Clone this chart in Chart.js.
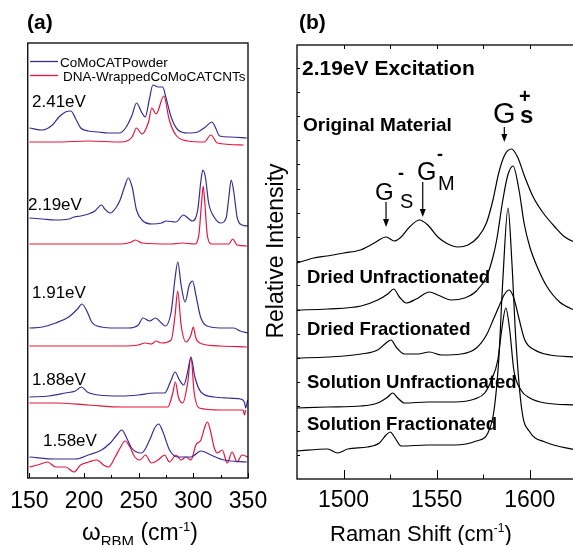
<!DOCTYPE html>
<html>
<head>
<meta charset="utf-8">
<script src="https://cdn.jsdelivr.net/npm/chart.js@4.4.1/dist/chart.umd.min.js"></script>
<style>
  html, body { margin: 0; padding: 0; background: #fff; overflow: hidden; }
  #wrap { position: relative; width: 573px; height: 545px; overflow: hidden; }
  #chartA { position: absolute; left: 0; top: 0; }
  #chartB { position: absolute; left: 255px; top: 0; }
</style>
</head>
<body>
<div id="wrap">
  <canvas id="chartA" width="290" height="545"></canvas>
  <canvas id="chartB" width="330" height="545"></canvas>
</div>
<script>
// ---- panel (a): RBM spectra, x = wavenumber (cm-1), y = offset intensity ----
const xTicksA = [150, 175, 200, 225, 250, 275, 300, 325, 350];
const xLabelsA = [150, 200, 250, 300, 350];

const wPow241 = [150,162,171,177,183,188,192,197,204,213,222,232,238,244,248,253,256,260,263,268,272,275,280,286,295,304,311,317,320,324,334,349];
const pow241  = [350,348,353,361,366,367,360,350,347,346,345,345,350,363,375,365,361,380,393,391,391,380,360,348,345,346,351,356,351,342,341,340];
const wDna241 = [150,174,204,234,244,248,253,259,262,266,273,278,284,295,310,316,322,346];
const dna241  = [336,336,337,336,341,350,344,356,370,364,382,358,343,337,336,343,335,333];

const wPow219 = [150,162,174,186,191,197,204,210,216,219,224,229,233,237,240.5,244,248,253,262,271,275,284,291,295,299,304,307,308.7,311,314,319,325,330,332.5,334.6,337,340,344.5,350];
const pow219  = [260,259,258,259,261,262,264,267,273,269,265,270,278,291,300,291,268,258,254,255,257,256,263,260,257,268,298,308,301,275,261,255,260,281,298,286,261,253,252];
const wDna219 = [150,204,234,243.5,247,253,280,290,301,305,307.5,309,310.5,313,317,332.5,336,340,349];
const dna219  = [234,234,234,236,238,235,234,235,234,243,275,292,275,241,234,234,239,233,232];

const wPow191 = [150,162,174,186,194,198,203,207,216,228.5,240.5,249.6,254,260,265.5,270.7,274.3,279.7,283.3,285.8,288.8,292.4,296.3,299.3,302.3,306.9,316,328,337,343,349.7];
const pow191  = [150,151,155,161,169,174,166,156,151,150,150,153,160,157,160,155,152,166,200,216,193,176,193,197,183,160,151,150,150,147,145];
const wDna191 = [150,234.5,249.6,256,261.6,266,270.7,279.7,283.3,285.7,288.8,293.3,297.8,299.9,302.3,308.4,325,349];
const dna191  = [132,132,133,135,134,137,135,138,163,187,153,136,143,151,140,134,132,131];

const wPow188 = [150,168,183,192,197.7,203,213,234.5,249.6,264.6,273.7,279.7,283.3,287.3,291.2,294.8,297.8,301.4,306.9,319,331,343,346.7,347.9,349.7];
const pow188  = [81,82,85,87,91,86,83,82,83,85,85,98,106,98,93,106,121,101,86,81,80,79,76,70,78];
const wDna188 = [150,174,204,234.5,264.6,276.7,281.2,283.6,286.3,290.3,294.8,297.8,300.8,305.3,325,345.5,346.7,347.9];
const dna188  = [75,75,73,71,71,71,85,96,81,75,95,121,85,70,68,68,63,68];

const wPow158 = [150,174,192,204,216,224,230,234.5,239,243.5,252.6,260,264.6,268.3,272.2,278.2,285.7,297.8,306.9,316,328,349];
const pow158  = [21,19,19,23,28,35,43,48,40,30,25,38,50,54,46,28,21,21,27,23,18,16];
const wDna158 = [150,157.6,166.6,174.2,183.2,190.8,196.8,204.3,211.9,217.9,222.4,228.5,233,237.5,242,246.5,251.1,256.2,261.6,267.7,273.7,278.2,284.2,288.8,293.3,297.8,302.3,306.9,310.8,312.9,315.9,318.9,321.9,326.5,331,335.5,340,344.5,350];
const dna158  = [11,13,16,11,11,6,13,16,18,13,11,21,30,37,31,21,18,23,15,18,23,16,23,18,21,18,33,38,52,56,46,31,25,28,15,26,16,23,21];

// ---- panel (b): G band, 2.19 eV excitation ----
const xTicksB = [1500, 1525, 1550, 1575, 1600];
const xLabelsB = [1500, 1550, 1600];

const wOrig = [1475,1484,1491,1500,1509,1516.5,1522.8,1527.3,1530.9,1535.4,1540.8,1545.2,1550.6,1556,1561.4,1566.8,1572.2,1576.7,1580.2,1583.3,1586.5,1590.1,1593.4,1597.3,1601.8,1607.2,1613.5,1618.8,1625];
const orig  = [216,221,223,226,229,236,242,238,242,252,259,254,242,235,232,234,242,256,279,306,324,330,322,302,282,266,252,242,236];
const wDU = [1475,1491.4,1509.4,1518.3,1523.7,1526.9,1530,1533.6,1539,1546.1,1550.6,1557.8,1565,1571.3,1576.7,1580.2,1582.2,1585.5,1588.2,1591,1594.1,1597,1600,1604,1609,1616,1625];
const driedUnfrac = [169,170,173,179,185,190,182,176,180,187,184,179,181,188,202,222,239,279,304,313,290,255,232,212,193,177,168];
const wDF = [1475,1491.4,1509.4,1518.3,1522.8,1525.5,1528.2,1532.7,1539.8,1546.1,1552.5,1563.2,1571.3,1576.7,1580.5,1584,1586.5,1588.9,1591.4,1594.1,1597.3,1602.7,1610.8,1625];
const driedFrac = [121,122,125,129,136,139,132,125,125,127,124,125,131,144,160,175,185,189,181,161,139,129,124,122];
const wSU = [1475,1491.4,1509.4,1518.3,1523.7,1526.4,1529.1,1532.7,1545.2,1559.6,1570.4,1575.8,1579.4,1582.8,1584.9,1587.1,1589.2,1591.4,1595.2,1600,1608.1,1625];
const solUnfrac = [71,72,73,76,82,86,81,76,77,77,80,86,99,119,149,171,149,109,89,81,76,74];
const wSF = [1475,1491.4,1496.8,1502.2,1512.9,1519.2,1522.8,1525.1,1527.3,1530.9,1545.2,1559.6,1571.3,1577.5,1580.8,1583.3,1585.5,1588.3,1590.3,1592.5,1595.7,1600,1608.1,1625];
const solFrac = [28,30,26,30,32,36,44,47,42,33,34,34,38,46,69,119,199,271,219,139,69,47,37,29];

const FONT = '"Liberation Sans", Arial, Helvetica, sans-serif';
const BLUE = '#3b2d8f';
const RED = '#e3163d';

function pts(xs, ys) {
  return xs.map((x, i) => ({ x: x, y: ys[i] }));
}

function line(label, xs, ys, color) {
  return {
    label: label,
    data: pts(xs, ys),
    borderColor: color,
    borderWidth: 1.2,
    pointRadius: 0,
    fill: false,
    cubicInterpolationMode: 'monotone'
  };
}

function txt(ctx, s, x, y, size, weight) {
  ctx.font = (weight || 'normal') + ' ' + size + 'px ' + FONT;
  ctx.fillText(s, x, y);
  return x + ctx.measureText(s).width;
}

// frame round the plot area, with inward tick marks
function drawFrame(chart, o) {
  const ctx = chart.ctx, a = chart.chartArea, sx = chart.scales.x;
  ctx.save();
  ctx.strokeStyle = '#000';
  ctx.lineWidth = 1.3;
  ctx.strokeRect(a.left, a.top, a.right - a.left, a.bottom - a.top);
  ctx.lineWidth = 1;
  ctx.beginPath();
  o.ticks.forEach(v => {
    const x = Math.round(sx.getPixelForValue(v)) + 0.5;
    const len = v % 50 === 0 ? o.major : o.minor;
    ctx.moveTo(x, a.bottom);
    ctx.lineTo(x, a.bottom - len);
    if (o.top) {
      ctx.moveTo(x, a.top);
      ctx.lineTo(x, a.top + 4);
    }
  });
  if (o.yStep) {
    for (let y = a.bottom - o.yStep; y > a.top + 5; y -= o.yStep) {
      ctx.moveTo(a.left, Math.round(y) + 0.5);
      ctx.lineTo(a.left + 3, Math.round(y) + 0.5);
    }
  }
  ctx.stroke();
  ctx.restore();
}

function arrow(ctx, x, y1, y2) {
  ctx.beginPath();
  ctx.moveTo(x, y1);
  ctx.lineTo(x, y2 - 6);
  ctx.stroke();
  ctx.beginPath();
  ctx.moveTo(x - 3, y2 - 8);
  ctx.lineTo(x + 3, y2 - 8);
  ctx.lineTo(x, y2);
  ctx.closePath();
  ctx.fill();
}

const panelA = {
  id: 'panelA',
  afterDraw(chart) {
    drawFrame(chart, { ticks: xTicksA, major: 5, minor: 3 });
    const ctx = chart.ctx;
    ctx.save();
    ctx.fillStyle = '#000';
    ctx.textBaseline = 'alphabetic';
    txt(ctx, '(a)', 27, 29, 21, 'bold');
    // legend
    ctx.lineWidth = 1.3;
    ctx.strokeStyle = BLUE;
    ctx.beginPath(); ctx.moveTo(30, 61.5); ctx.lineTo(58, 61.5); ctx.stroke();
    ctx.strokeStyle = RED;
    ctx.beginPath(); ctx.moveTo(30, 75.5); ctx.lineTo(58, 75.5); ctx.stroke();
    txt(ctx, 'CoMoCATPowder', 60, 67, 13.5);
    txt(ctx, 'DNA-WrappedCoMoCATCNTs', 63, 81, 13.5);
    // excitation energies
    txt(ctx, '2.41eV', 32, 107, 17);
    txt(ctx, '2.19eV', 28, 210, 17);
    txt(ctx, '1.91eV', 32, 298, 17);
    txt(ctx, '1.88eV', 32, 385, 17);
    txt(ctx, '1.58eV', 43, 446, 17);
    // axis title
    let x = txt(ctx, '\u03c9', 82, 540, 24);
    x = txt(ctx, 'RBM', x, 546, 15);
    x = txt(ctx, ' (cm', x, 540, 23);
    x = txt(ctx, '-1', x, 531, 13);
    txt(ctx, ')', x, 540, 23);
    ctx.restore();
  }
};

const panelB = {
  id: 'panelB',
  afterDraw(chart) {
    drawFrame(chart, { ticks: xTicksB, major: 9, minor: 4.5, top: true, yStep: 24.2 });
    const ctx = chart.ctx, sx = chart.scales.x, sy = chart.scales.y;
    const o = 255; // canvas offset on the page
    ctx.save();
    ctx.fillStyle = '#000';
    ctx.strokeStyle = '#000';
    ctx.lineWidth = 1.2;
    txt(ctx, '(b)', 299 - o, 29, 21, 'bold');
    txt(ctx, '2.19eV Excitation', 302 - o, 75, 21, 'bold');
    txt(ctx, 'Original Material', 303 - o, 131, 19, 'bold');
    txt(ctx, 'Dried Unfractionated', 307 - o, 283, 18.5, 'bold');
    txt(ctx, 'Dried Fractionated', 307 - o, 335, 18.5, 'bold');
    txt(ctx, 'Solution Unfractionated', 307 - o, 388, 18.5, 'bold');
    txt(ctx, 'Solution Fractionated', 307 - o, 430, 18.5, 'bold');
    // band labels
    txt(ctx, 'G', 493 - o, 123, 29);
    txt(ctx, '+', 519 - o, 103, 20, 'bold');
    txt(ctx, 's', 520 - o, 123, 24, 'bold');
    txt(ctx, 'G', 375 - o, 200, 24);
    txt(ctx, '-', 398 - o, 179, 18, 'bold');
    txt(ctx, 'S', 400 - o, 208, 20);
    txt(ctx, 'G', 417 - o, 180, 25);
    txt(ctx, '-', 437 - o, 160, 18, 'bold');
    txt(ctx, 'M', 438 - o, 190, 20);
    // arrows pointing at the peaks
    arrow(ctx, sx.getPixelForValue(1522.8), sy.getPixelForValue(277), sy.getPixelForValue(252));
    arrow(ctx, sx.getPixelForValue(1542.5), sy.getPixelForValue(297), sy.getPixelForValue(262));
    arrow(ctx, sx.getPixelForValue(1586.3), sy.getPixelForValue(352), sy.getPixelForValue(337));
    // y title
    ctx.save();
    ctx.translate(283 - o, 251);
    ctx.rotate(-Math.PI / 2);
    ctx.textAlign = 'center';
    txt(ctx, 'Relative Intensity', 0, 0, 23);
    ctx.restore();
    // x title
    let x = txt(ctx, 'Raman Shift (cm', 330 - o, 541, 22);
    x = txt(ctx, '-1', x, 532, 12);
    txt(ctx, ')', x, 541, 22);
    ctx.restore();
  }
};

function xScale(min, max, labels, pad, h) {
  return {
    type: 'linear',
    min: min,
    max: max,
    afterBuildTicks: s => { s.ticks = labels.map(v => ({ value: v })); },
    afterFit: s => { s.height = h; },
    ticks: {
      color: '#000',
      font: { family: FONT, size: 23 },
      padding: pad,
      maxRotation: 0,
      autoSkip: false,
      callback: v => String(v)
    },
    grid: { display: false, drawTicks: false },
    border: { display: false }
  };
}

new Chart(document.getElementById('chartA').getContext('2d'), {
  type: 'line',
  data: {
    datasets: [
      line('CoMoCATPowder', wPow241, pow241, BLUE),
      line('DNA-WrappedCoMoCATCNTs', wDna241, dna241, RED),
      line('CoMoCATPowder 2.19', wPow219, pow219, BLUE),
      line('DNA 2.19', wDna219, dna219, RED),
      line('CoMoCATPowder 1.91', wPow191, pow191, BLUE),
      line('DNA 1.91', wDna191, dna191, RED),
      line('CoMoCATPowder 1.88', wPow188, pow188, BLUE),
      line('DNA 1.88', wDna188, dna188, RED),
      line('CoMoCATPowder 1.58', wPow158, pow158, BLUE),
      line('DNA 1.58', wDna158, dna158, RED)
    ]
  },
  options: {
    responsive: false,
    animation: false,
    layout: { padding: { left: 25, right: 42, top: 43, bottom: 0 } },
    plugins: { legend: { display: false }, tooltip: { enabled: false } },
    scales: {
      x: xScale(148.5, 350, xLabelsA, 10, 67),
      y: { type: 'linear', display: false, min: 0, max: 435 }
    }
  },
  plugins: [panelA]
});

new Chart(document.getElementById('chartB').getContext('2d'), {
  type: 'line',
  data: {
    datasets: [
      line('Original Material', wOrig, orig, '#000'),
      line('Dried Unfractionated', wDU, driedUnfrac, '#000'),
      line('Dried Fractionated', wDF, driedFrac, '#000'),
      line('Solution Unfractionated', wSU, solUnfrac, '#000'),
      line('Solution Fractionated', wSF, solFrac, '#000')
    ]
  },
  options: {
    responsive: false,
    animation: false,
    layout: { padding: { left: 42, right: 8.6, top: 45, bottom: 0 } },
    plugins: { legend: { display: false }, tooltip: { enabled: false } },
    scales: {
      x: xScale(1475, 1625, xLabelsB, 8, 66),
      y: { type: 'linear', display: false, min: 0, max: 434 }
    }
  },
  plugins: [panelB]
});
</script>
</body>
</html>
